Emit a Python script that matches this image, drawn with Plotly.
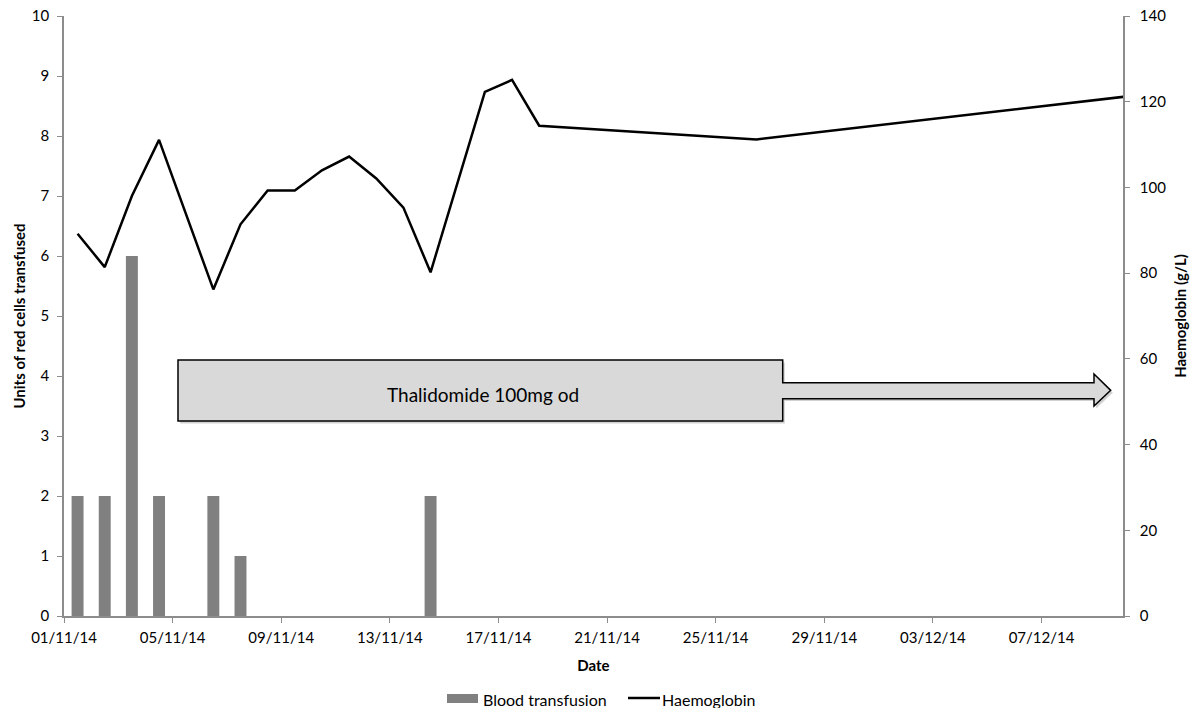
import plotly.graph_objects as go

# Data
bar_dates = ["2014-11-01 12:00", "2014-11-02 12:00", "2014-11-03 12:00", "2014-11-04 12:00",
             "2014-11-06 12:00", "2014-11-07 12:00", "2014-11-14 12:00"]
bar_units = [2, 2, 6, 2, 2, 1, 2]

hb_dates = ["2014-11-01 12:00", "2014-11-02 12:00", "2014-11-03 12:00", "2014-11-04 12:00",
            "2014-11-06 12:00", "2014-11-07 12:00", "2014-11-08 12:00", "2014-11-09 12:00",
            "2014-11-10 12:00", "2014-11-11 12:00", "2014-11-12 12:00", "2014-11-13 12:00",
            "2014-11-14 12:00", "2014-11-16 12:00", "2014-11-17 12:00", "2014-11-18 12:00",
            "2014-11-26 12:00", "2014-12-10 12:00"]
hb_values = [89.2, 81.4, 98.0, 111.1, 76.2, 91.4, 99.3, 99.3, 104.0, 107.2, 102.1, 95.3,
             80.2, 122.3, 125.1, 114.4, 111.2, 121.5]

series_names = ["Blood transfusion", "Haemoglobin"]

FONT = "Lato, 'Open Sans', sans-serif"
DAY_MS = 86400000
BAR_COLOR = "rgb(128,128,128)"

# plot area in pixels (for placing decorations in paper coords)
L, R, T, B = 64, 1123, 16, 616
W, H = 1197, 708
def px(x):
    return (x - L) / (R - L)
def py(y):
    return (B - y) / (B - T)

fig = go.Figure()
fig.add_trace(go.Bar(x=bar_dates, y=bar_units, name=series_names[0],
                     marker=dict(color=BAR_COLOR, line=dict(width=0)),
                     width=0.44 * DAY_MS, yaxis="y", showlegend=False))
fig.add_trace(go.Scatter(x=hb_dates, y=hb_values, name=series_names[1], mode="lines",
                         line=dict(color="black", width=2.5), yaxis="y2", showlegend=False))

# Thalidomide arrow (pixel positions converted to paper coords)
ax0, ax1 = px(178), px(782.7)
ayt, ayb = py(360), py(421)
ast, asb = py(382.7), py(398.7)
ahb, atip = px(1094), px(1110.7)
aht, ahbm = py(374), py(406)
aym = py(390.35)

def arrow_path(dx=0.0, dy=0.0):
    pts = [(ax0, ayb), (ax0, ayt), (ax1, ayt), (ax1, ast), (ahb, ast), (ahb, aht), (atip, aym),
           (ahb, ahbm), (ahb, asb), (ax1, asb), (ax1, ayb)]
    return "M " + " L ".join(f"{a + dx},{b + dy}" for a, b in pts) + " Z"

fig.add_shape(type="path", xref="paper", yref="paper", path=arrow_path(0.002, -0.004),
              fillcolor="rgba(0,0,0,0.18)", line=dict(width=0), layer="above")
fig.add_shape(type="path", xref="paper", yref="paper", path=arrow_path(),
              fillcolor="rgb(217,217,217)", line=dict(color="black", width=1.5), layer="above")
fig.add_annotation(x=px(483), y=py(395), xref="paper", yref="paper",
                   text="Thalidomide 100mg od", showarrow=False,
                   font=dict(family=FONT, size=19, color="black"))

# Custom legend
fig.add_shape(type="rect", xref="paper", yref="paper",
              x0=px(447), x1=px(478), y0=py(703), y1=py(694),
              fillcolor=BAR_COLOR, line=dict(width=0))
fig.add_annotation(x=px(482), y=py(689), xref="paper", yref="paper", xanchor="left", yanchor="top",
                   text=series_names[0], showarrow=False, borderpad=0,
                   font=dict(family=FONT, size=16, color="black"))
fig.add_shape(type="line", xref="paper", yref="paper",
              x0=px(628), x1=px(660), y0=py(698), y1=py(698),
              line=dict(color="black", width=2.5))
fig.add_annotation(x=px(661), y=py(689), xref="paper", yref="paper", xanchor="left", yanchor="top",
                   text=series_names[1], showarrow=False, borderpad=0,
                   font=dict(family=FONT, size=16, color="black"))

axis_common = dict(showgrid=False, zeroline=False, showline=True, linecolor="#8c8c8c",
                   linewidth=1.5, ticks="outside", ticklen=5, tickcolor="#8c8c8c",
                   automargin=False,
                   tickfont=dict(family=FONT, size=15, color="black"))

fig.update_layout(
    width=W, height=H,
    margin=dict(l=L, r=W - R, t=T, b=H - B, autoexpand=False),
    plot_bgcolor="white", paper_bgcolor="white",
    font=dict(family=FONT, color="black"),
    xaxis=dict(type="date", range=["2014-11-01", "2014-12-10"], tick0="2014-11-01",
               dtick=4 * DAY_MS, tickformat="%d/%m/%y", ticklabelstandoff=2,
               title=dict(text="<b>Date</b>", font=dict(family=FONT, size=15), standoff=16),
               **axis_common),
    yaxis=dict(range=[0, 10], dtick=1, ticklabelstandoff=5,
               title=dict(text="<b>Units of red cells transfused</b>", font=dict(family=FONT, size=15), standoff=3),
               **axis_common),
    yaxis2=dict(range=[0, 140], dtick=20, overlaying="y", side="right", ticklabelstandoff=7,
                title=dict(text="<b>Haemoglobin (g/L)</b>", font=dict(family=FONT, size=15), standoff=10),
                **axis_common),
    showlegend=False,
)

fig.write_html("out.html", config={"displayModeBar": False},
               post_script="document.body.style.margin='0';")
